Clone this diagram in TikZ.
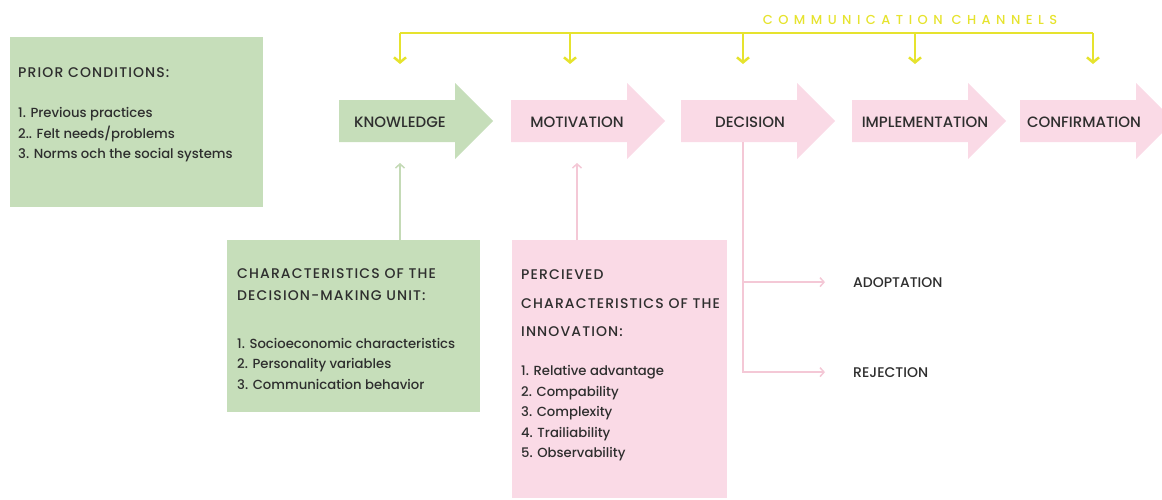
\documentclass[tikz,border=0pt]{standalone}
\usepackage{fontspec}
\setmainfont{Poppins}[UprightFont=* Medium]
\usetikzlibrary{arrows.meta}

\definecolor{leaf}{HTML}{C6DEBA}
\definecolor{blush}{HTML}{FADAE6}
\definecolor{leafline}{HTML}{C4DAB6}
\definecolor{blushline}{HTML}{F4C8D6}
\definecolor{canary}{HTML}{E6E32E}
\definecolor{ink}{HTML}{2E2E2E}

\newcommand{\titlefont}{\fontsize{14}{20.5}\selectfont\addfontfeature{LetterSpace=8}}
\newcommand{\stagearrow}[2]{%
  \fill[#2] (#1,100) -- ++(116,0) -- ++(0,-17) -- ++(38,38) -- ++(-38,38) -- ++(0,-17) -- ++(-116,0) -- cycle;}

\begin{document}
\begin{tikzpicture}[x=1pt,y=-1pt,
  leafbox/.style={fill=leaf,anchor=north west,inner sep=0},
  blushbox/.style={fill=blush,anchor=north west,inner sep=0},
  boxtext/.style={anchor=north west,inner sep=0,align=left,text=ink,font=\fontsize{13.2}{20.5}\selectfont},
  stagetext/.style={anchor=base,inner sep=0,text=ink,font=\fontsize{15}{18}\selectfont},
  outcome/.style={anchor=base west,inner sep=0,text=ink,font=\fontsize{14}{18}\selectfont},
  chanline/.style={canary,line width=2.5pt},
  leafarrow/.style={leafline,line width=1.5pt,-{Straight Barb[length=4pt,width=9pt]}},
  blusharrow/.style={blushline,line width=1.5pt,-{Straight Barb[length=4pt,width=9pt]}}]
\useasboundingbox (0,0) rectangle (1162,499);

\node[leafbox,minimum width=253,minimum height=170] (prior) at (10,37) {};
\node[boxtext] (priortext) at (18,67) {\titlefont PRIOR CONDITIONS:\\[20pt]
  1. Previous practices\\
  2.. Felt needs/problems\\
  3. Norms och the social systems};

\stagearrow{339}{leaf}
\stagearrow{511}{blush}
\stagearrow{681}{blush}
\stagearrow{852}{blush}
\stagearrow{1020}{blush}
\node[stagetext] (knowledge) at (400,127) {KNOWLEDGE};
\node[stagetext] (motivation) at (577,127) {MOTIVATION};
\node[stagetext] (decision) at (750,127) {DECISION};
\node[stagetext] (implementation) at (925,127) {IMPLEMENTATION};
\node[stagetext] (confirmation) at (1084,127) {CONFIRMATION};

\node[anchor=base,inner sep=0,text=canary,font=\fontsize{13}{15}\selectfont\addfontfeature{LetterSpace=42}] (channels) at (910,24) {COMMUNICATION CHANNELS};
\foreach \x/\n in {400/k,570/m,743/d,915/i,1093/c} {
  \coordinate (ch-\n) at (\x,33);
  \coordinate (in-\n) at (\x,64);
}
\draw[chanline] (ch-k) -- (ch-c);
\foreach \n in {k,m,d,i,c}
  \draw[chanline,-{Straight Barb[length=5pt,width=12pt]}] (ch-\n) -- (in-\n);

\node[leafbox,minimum width=253,minimum height=172] (unit) at (227,240) {};
\node[boxtext] (unittext) at (237,268) {\titlefont CHARACTERISTICS OF THE\\[1.5pt]
  \titlefont DECISION-MAKING UNIT:\\[27.5pt]
  1. Socioeconomic characteristics\\
  2. Personality variables\\
  3. Communication behavior};

\node[blushbox,minimum width=215,minimum height=258] (percieved) at (512,240) {};
\node[boxtext] (percievedtext) at (521,269) {\titlefont PERCIEVED\\[8.5pt]
  \titlefont CHARACTERISTICS OF THE\\[7.5pt]
  \titlefont INNOVATION:\\[19pt]
  1. Relative advantage\\
  2. Compability\\
  3. Complexity\\
  4. Trailiability\\
  5. Observability};

\coordinate (kn-foot) at (400,163);
\coordinate (mo-foot) at (577,163);
\draw[leafarrow] (unit.north -| kn-foot) -- (kn-foot);
\draw[blusharrow] (percieved.north -| mo-foot) -- (mo-foot);

\node[outcome] (adoptation) at (853,287) {ADOPTATION};
\node[outcome] (rejection) at (853,377) {REJECTION};
\coordinate (dec-foot) at (743,142);
\draw[blusharrow,shorten >=28pt] (dec-foot) |- (rejection.west);
\draw[blusharrow,shorten >=28pt] (dec-foot |- adoptation.west) -- (adoptation.west);
\end{tikzpicture}
\end{document}
